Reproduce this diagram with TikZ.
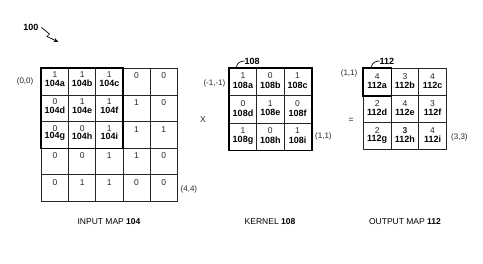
\documentclass[tikz,border=0pt]{standalone}
\usepackage{fontspec}
\setmainfont{Liberation Sans}
\usetikzlibrary{arrows.meta}
\begin{document}
\begin{tikzpicture}[x=1pt,y=-1pt,
  cellbox/.style={draw=black!85,line width=0.7pt,inner sep=0pt,anchor=north west},
  incell/.style={cellbox,minimum width=27.2pt,minimum height=26.6pt},
  kcell/.style={cellbox,minimum width=27.3pt,minimum height=27.3pt},
  ocell/.style={cellbox,minimum width=27.7pt,minimum height=27pt},
  num/.style={inner sep=0pt,font=\fontsize{8.5}{9}\selectfont,text=black!85},
  lab/.style={inner sep=0pt,font=\fontsize{9}{9}\selectfont\bfseries},
  coord/.style={inner sep=0pt,font=\fontsize{8}{9}\selectfont,text=black!85},
  caption/.style={inner sep=0pt,font=\fontsize{8.5}{10}\selectfont},
  boldframe/.style={draw=black,line width=1.8pt},
  leader/.style={draw=black,line width=0.7pt}]
\useasboundingbox (0,0) rectangle (483,264);

% ---------- INPUT MAP 104 ----------
\foreach \v [count=\k from 0] in {1,1,1,0,0, 0,1,1,1,0, 0,0,1,1,1, 0,0,1,1,0, 0,1,1,0,0}{
  \pgfmathtruncatemacro\c{mod(\k,5)}
  \pgfmathtruncatemacro\r{div(\k,5)}
  \node[incell] (in-\r-\c) at ({41+27.2*\c},{68+26.6*\r}) {};
}
\foreach \v/\l [count=\k from 0] in {1/a,1/b,1/c,0/d,1/e,1/f,0/g,0/h,1/i}{
  \pgfmathtruncatemacro\c{mod(\k,3)}
  \pgfmathtruncatemacro\r{div(\k,3)}
  \node[num] (in-\r-\c-v) at ([yshift=-7pt]in-\r-\c.north) {\v};
  \node[lab] (in-\r-\c-l) at ([yshift=-15.5pt]in-\r-\c.north) {104\l};
}
\foreach \v/\r/\c in {0/0/3,0/0/4,1/1/3,0/1/4,1/2/3,1/2/4,
  0/3/0,0/3/1,1/3/2,1/3/3,0/3/4,0/4/0,1/4/1,1/4/2,0/4/3,0/4/4}{
  \node[num] (in-\r-\c-v) at ([yshift=-8pt]in-\r-\c.north) {\v};
}
\draw[boldframe] (in-0-0.north west) rectangle (in-2-2.south east);
\node[coord,anchor=east] (in-origin) at (33.5,81) {(0,0)};
\node[coord,anchor=west] (in-end) at (180.5,189) {(4,4)};
\node[caption] (in-cap) at (109,222) {INPUT MAP \textbf{104}};

% ---------- KERNEL 108 ----------
\foreach \v/\l [count=\k from 0] in {1/a,0/b,1/c,0/d,1/e,0/f,1/g,0/h,1/i}{
  \pgfmathtruncatemacro\c{mod(\k,3)}
  \pgfmathtruncatemacro\r{div(\k,3)}
  \node[kcell] (k-\r-\c) at ({229+27.3*\c},{68+27.3*\r}) {};
  \node[num] (k-\r-\c-v) at ([yshift=-8pt]k-\r-\c.north) {\v};
  \node[lab] (k-\r-\c-l) at ([yshift=-17.5pt]k-\r-\c.north) {108\l};
}
\draw[boldframe] (k-0-0.north west) rectangle (k-2-2.south east);
\node[lab,anchor=west] (k-ref) at (244.5,61) {108};
\draw[leader] ([xshift=7pt]k-0-0.north west) .. controls ++(1,-6) and ++(-3,0) .. (k-ref.west);
\node[coord,anchor=east] (k-origin) at (225.5,83) {(-1,-1)};
\node[coord,anchor=west] (k-end) at (315,136) {(1,1)};
\node[caption] (k-cap) at (270,222) {KERNEL \textbf{108}};
\node[coord,font=\fontsize{8.5}{9}\selectfont] (times) at (203,120) {X};

% ---------- OUTPUT MAP 112 ----------
\foreach \v/\l [count=\k from 0] in {4/a,3/b,4/c,2/d,4/e,3/f,2/g,\textbf{3}/h,4/i}{
  \pgfmathtruncatemacro\c{mod(\k,3)}
  \pgfmathtruncatemacro\r{div(\k,3)}
  \node[ocell] (o-\r-\c) at ({363+27.7*\c},{68+27*\r}) {};
  \node[num] (o-\r-\c-v) at ([yshift=-8.5pt]o-\r-\c.north) {\v};
  \node[lab] (o-\r-\c-l) at ([yshift=-17pt]o-\r-\c.north) {112\l};
}
\draw[boldframe] (o-0-0.north west) rectangle (o-0-0.south east);
\node[lab,anchor=west] (o-ref) at (379.5,61) {112};
\draw[leader] ([xshift=8pt]o-0-0.north west) .. controls ++(1,-6) and ++(-3,0) .. (o-ref.west);
\node[coord,anchor=east] (o-origin) at (357.5,73) {(1,1)};
\node[coord,anchor=west] (o-end) at (451,137) {(3,3)};
\node[caption] (o-cap) at (405,222) {OUTPUT MAP \textbf{112}};
\node[coord,font=\fontsize{8.5}{9}\selectfont] (equals) at (351,120) {=};

% ---------- figure reference 100 ----------
\node[lab,anchor=east] (fig) at (38.5,27.5) {100};
\coordinate (fig-tip) at (58.5,42);
\draw[line width=0.7pt,-{Stealth[length=5pt,width=4pt]}]
  ([xshift=3pt]fig.east) -- (49.5,34) -- (47,36.5) -- (fig-tip);
\end{tikzpicture}
\end{document}
